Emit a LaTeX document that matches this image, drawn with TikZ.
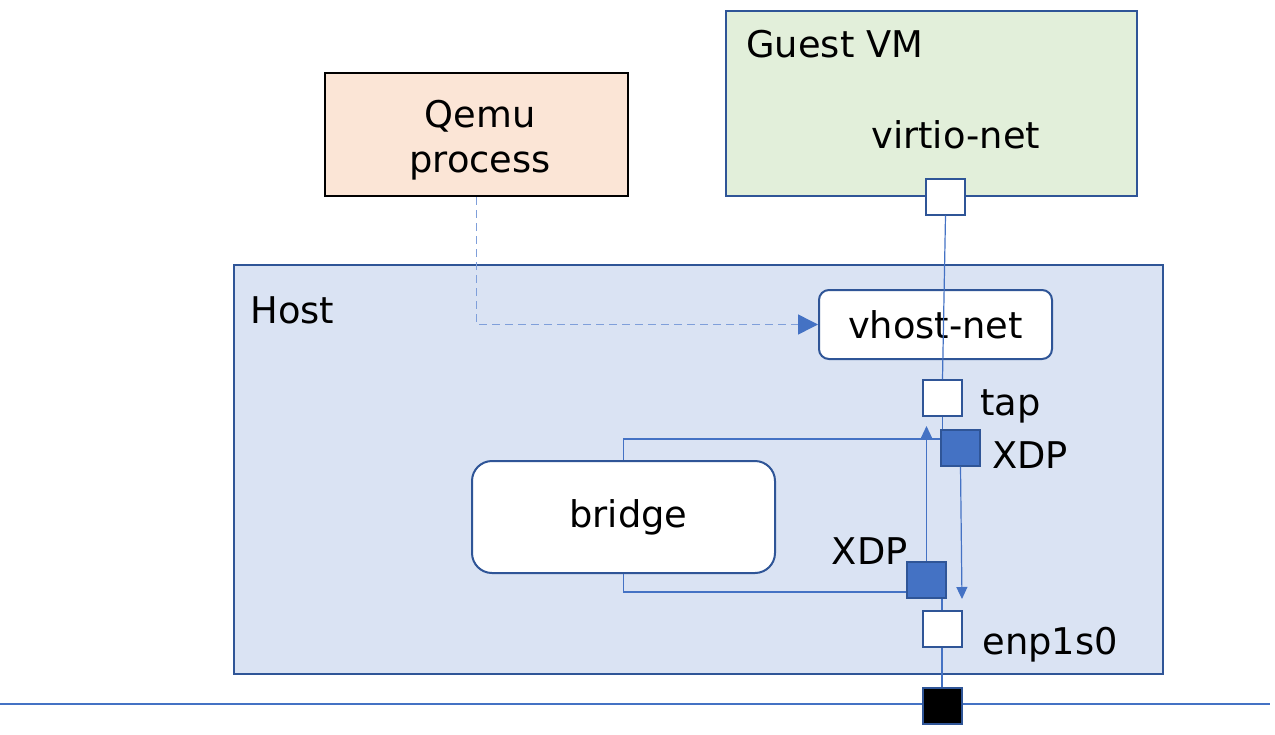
\documentclass[tikz,border=0pt]{standalone}
\usepackage{fontspec}
\setmainfont{DejaVu Sans}
\usepackage{xcolor}
\usetikzlibrary{arrows.meta}

\definecolor{hostfill}{HTML}{DAE3F3}
\definecolor{guestfill}{HTML}{E2EFDA}
\definecolor{qemufill}{HTML}{FBE5D6}
\definecolor{border}{HTML}{2F5597}
\definecolor{xdpfill}{HTML}{4472C4}
\definecolor{linkblue}{HTML}{4472C4}
\definecolor{dashblue}{HTML}{7F9FDA}

\begin{document}
\begin{tikzpicture}[x=0.5pt,y=-0.5pt,
	every node/.style={font=\fontsize{18.4}{22.5}\selectfont},
	panel/.style={rectangle,draw=border,line width=1pt},
	port/.style={rectangle,draw=border,line width=1pt,fill=white,minimum width=19.5pt,minimum height=18pt,inner sep=0pt},
	xdp/.style={port,fill=xdpfill},
	tag/.style={inner sep=0pt,anchor=base west},
	link/.style={draw=linkblue,line width=0.6pt},
	flow/.style={link,-{Triangle[length=6pt,width=5.5pt]}}]
	\useasboundingbox (0,0) rectangle (1275,734);
	\node [panel,fill=hostfill,minimum width=464.5pt,minimum height=204.5pt] (host) at (698.5,469.5) {};
	\node [panel,fill=guestfill,minimum width=205.5pt,minimum height=92.5pt] (guest) at (931.5,103.5) {};
	\node [panel,draw=black,fill=qemufill,minimum width=151.5pt,minimum height=61.5pt] (qemu) at (476.5,134.5) {};
	\node [align=center] (qemulbl) at (480,140.5) {Qemu\\process};
	\node [tag] (hostlbl) at (250,323) {Host};
	\node [tag] (guestlbl) at (746,57) {Guest VM};
	\node [tag] (virtiolbl) at (871,148) {virtio-net};
	\node [panel,fill=white,rounded corners=5pt,minimum width=116.5pt,minimum height=34.5pt] (vhost) at (935.5,324.5) {vhost-net};
	\node [panel,fill=white,rounded corners=10pt,minimum width=151.5pt,minimum height=56pt] (bridge) at (623.5,517) {\hspace{5pt}bridge};
	\node [port] (virtio) at (945.5,196.5) {};
	\node [port] (tap) at (942.5,398) {};
	\node [xdp] (xdpup) at (960.5,447.5) {};
	\node [xdp] (xdplo) at (926.5,579.5) {};
	\node [port] (enp) at (942,629) {};
	\node [port,fill=black] (nic) at (942,706) {};
	\node [tag] (taplbl) at (980,415) {tap};
	\node [tag] (xdpuplbl) at (992,468) {XDP};
	\node [tag,anchor=base east] (xdplolbl) at (908,564) {XDP};
	\node [tag] (enplbl) at (982,654) {enp1s0};
	\coordinate (wireL) at (0,704);
	\coordinate (wireR) at (1270,704);

	\draw [link] (wireL) -- (nic.west |- wireL);
	\draw [link] (nic.east |- wireR) -- (wireR);
	\draw [link] (virtio.south) -- (tap.north);
	\draw [link] (tap.south) -- (tap.south |- xdpup.north);
	\draw [link] (enp.north |- xdplo.south) -- (enp.north);
	\draw [link] (enp.south) -- (nic.north);
	\draw [link] (bridge.north) |- ([yshift=4.25pt]xdpup.west);
	\draw [link] (bridge.south) |- ([yshift=-6.25pt]xdplo.west);
	\draw [flow] (xdplo.north) -- ([yshift=-4.5pt]xdplo.north |- tap.south);
	\draw [flow] (xdpup.south) -- ([xshift=0.75pt,yshift=5.5pt]xdpup.south |- enp.north);
	\draw [draw=dashblue,line width=0.75pt,dash pattern=on 4pt off 2.5pt,-{Triangle[length=10pt,width=10pt,fill=linkblue,color=linkblue]}] (qemu.south) |- (vhost.west);
\end{tikzpicture}
\end{document}
